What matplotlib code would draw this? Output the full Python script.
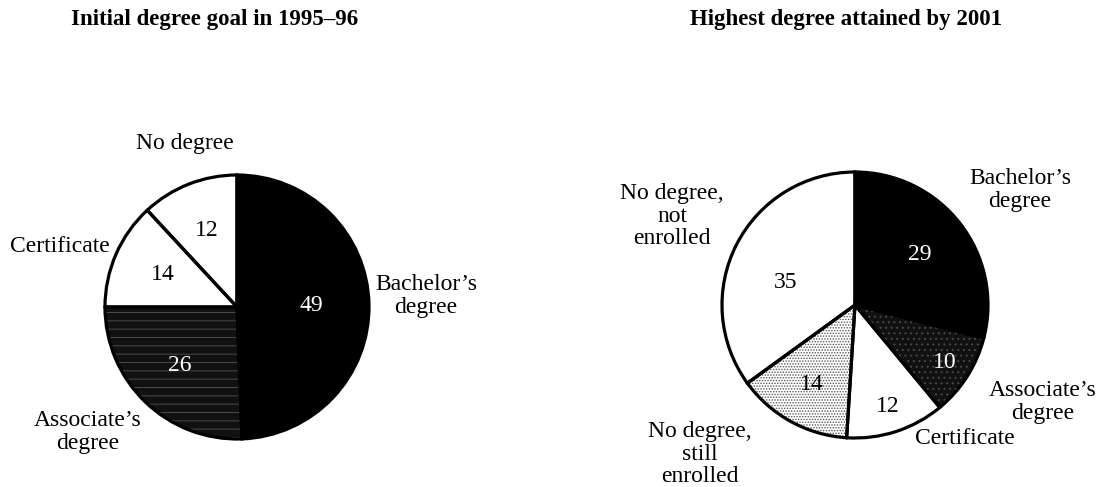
import matplotlib
matplotlib.use("Agg")
from matplotlib import pyplot as plt
from matplotlib.patches import Wedge
import numpy as np

plt.rcParams['font.family'] = ['Liberation Serif', 'DejaVu Serif']
plt.rcParams['hatch.linewidth'] = 0.7

# 数据
left_title = "Initial degree goal in 1995\u201396"
left_cats = ["Bachelor\u2019s\ndegree", "Associate\u2019s\ndegree", "Certificate", "No degree"]
left_vals = [49, 26, 14, 12]                # 图中标注的数值
left_share = [49.4, 25.6, 13.1, 11.9]       # 从扇形角度读出的份额

right_title = "Highest degree attained by 2001"
right_cats = ["Bachelor\u2019s\ndegree", "Associate\u2019s\ndegree", "Certificate",
              "No degree,\nstill\nenrolled", "No degree,\nnot\nenrolled"]
right_vals = [29, 10, 12, 14, 35]
right_share = [29, 10, 12, 14, 35]

W, H = 1101, 487
def P(x, y):                        # 像素坐标 -> 数据坐标
    return x, H - y

# 样式 (填充色, 纹理色, 纹理)
left_style = [("black", None, None), ("#111111", "#4a4a4a", "--"),
              ("white", None, None), ("white", None, None)]
right_style = [("black", None, None), ("#111111", "#4a4a4a", "..."),
               ("white", None, None), ("white", "#555555", "......"), ("white", None, None)]
left_num_col = ["white", "white", "black", "black"]
right_num_col = ["white", "white", "black", "black", "black"]
left_pctd = [0.56, 0.62, 0.61, 0.62]
right_pctd = [0.62, 0.8, 0.8, 0.68, 0.55]
right_pcta = [0, 0, 0, 0, 9]

left_lab_pos = [P(426, 296), P(88, 432), P(60, 246), P(185, 143)]
right_lab_pos = [P(1020, 190), P(1043, 402), P(965, 438), P(700, 454), P(672, 216)]

fig = plt.figure(figsize=(W / 100, H / 100), dpi=100)
ax = fig.add_axes([0, 0, 1, 1])

def draw_pie(vals, share, center, r, style, num_col, pctd, pcta, cats, lab_pos):
    total = float(sum(share))
    fr = [v / total for v in share]
    wedges, _ = ax.pie(fr, center=center, radius=r, startangle=90, counterclock=False,
                       colors=[s[0] for s in style], wedgeprops=dict(linewidth=0))
    for w, s in zip(wedges, style):
        if s[2]:
            ax.add_patch(Wedge(w.center, w.r, w.theta1, w.theta2, facecolor="none",
                               edgecolor=s[1], hatch=s[2], linewidth=0, zorder=2))
    ax.pie(fr, center=center, radius=r, startangle=90, counterclock=False,
           colors=["none"] * len(vals),
           wedgeprops=dict(linewidth=2.3, edgecolor="black", zorder=3))
    for w, v, c, d, a in zip(wedges, vals, num_col, pctd, pcta):
        ang = np.deg2rad((w.theta1 + w.theta2) / 2 + a)
        ax.text(center[0] + d * r * np.cos(ang), center[1] + d * r * np.sin(ang), str(v),
                ha="center", va="center", fontsize=17, color=c, zorder=4)
    for t, (x, y) in zip(cats, lab_pos):
        ax.text(x, y, t, ha="center", va="center", fontsize=17, linespacing=1.1)

draw_pie(left_vals, left_share, P(237, 307), 132, left_style, left_num_col, left_pctd,
         [0] * 4, left_cats, left_lab_pos)
draw_pie(right_vals, right_share, P(855, 305), 133, right_style, right_num_col, right_pctd,
         right_pcta, right_cats, right_lab_pos)

ax.text(*P(215, 19), left_title, ha="center", va="center", fontsize=16.5, fontweight="bold")
ax.text(*P(846, 19), right_title, ha="center", va="center", fontsize=16.5, fontweight="bold")

ax.set_xlim(0, W)
ax.set_ylim(0, H)
ax.set_aspect("equal", adjustable="box")
ax.axis("off")
fig.savefig("out.png", dpi=100)
